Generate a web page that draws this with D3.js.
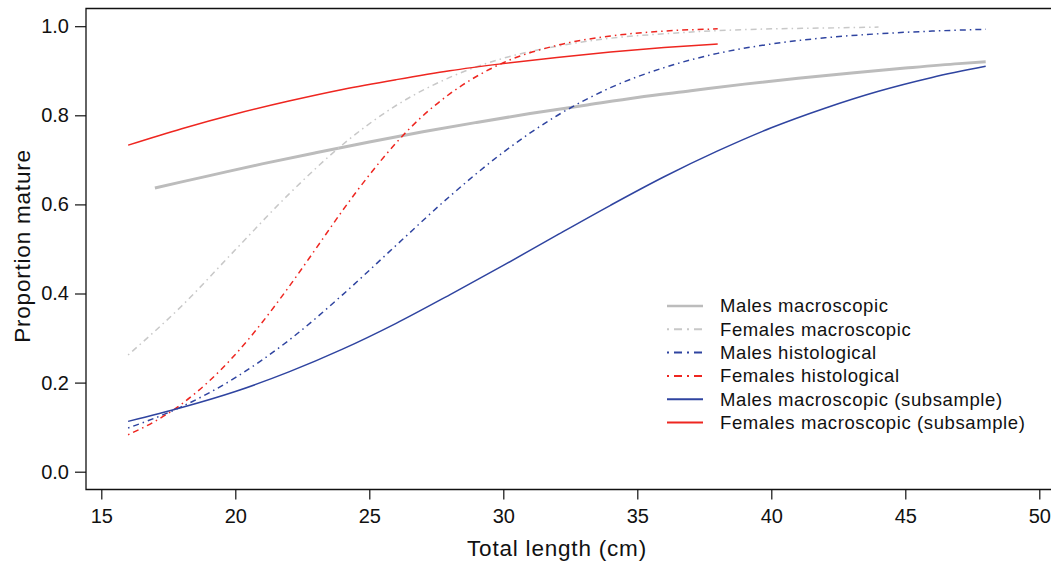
<!DOCTYPE html>
<html>
<head>
<meta charset="utf-8">
<script src="https://cdn.jsdelivr.net/npm/d3@7"></script>
<style>
  body { margin: 0; background: #fff; }
  text { font-family: "Liberation Sans", Arial, Helvetica, sans-serif; fill: #111; }
</style>
</head>
<body>
<div id="chart"></div>
<script>
// values (length in cm, proportion mature)
var malesMacro = [[17,0.637],[19,0.664],[21,0.691],[23,0.716],[25,0.740],[27,0.763],[29,0.784],[31,0.804],[33,0.822],[35,0.840],[37,0.855],[39,0.870],[41,0.883],[43,0.895],[45,0.906],[47,0.916],[48,0.920]];
var femalesMacro = [[16,0.262],[18,0.372],[20,0.498],[22,0.623],[24,0.734],[26,0.822],[28,0.885],[30,0.928],[32,0.955],[34,0.973],[36,0.983],[38,0.990],[40,0.994],[42,0.996],[44,0.998]];
var malesHisto = [[16,0.098],[18,0.146],[20,0.211],[22,0.295],[24,0.397],[26,0.508],[28,0.618],[30,0.717],[32,0.799],[34,0.862],[36,0.907],[38,0.939],[40,0.960],[42,0.974],[44,0.983],[46,0.989],[48,0.993]];
var femalesHisto = [[16,0.083],[17,0.113],[18,0.152],[19,0.202],[20,0.263],[21,0.335],[22,0.415],[23,0.500],[24,0.586],[25,0.666],[26,0.738],[27,0.799],[28,0.848],[30,0.918],[32,0.957],[34,0.978],[36,0.989],[38,0.994]];
var malesSub = [[16,0.113],[18,0.144],[20,0.180],[22,0.224],[24,0.275],[26,0.333],[28,0.397],[30,0.463],[32,0.531],[34,0.598],[36,0.662],[38,0.720],[40,0.772],[42,0.816],[44,0.854],[46,0.885],[48,0.910]];
var femalesSub = [[16,0.733],[18,0.770],[20,0.803],[22,0.832],[24,0.858],[26,0.880],[28,0.900],[30,0.916],[32,0.930],[34,0.942],[36,0.952],[38,0.960]];

var seriesNames = ["Males macroscopic", "Females macroscopic", "Males histological", "Females histological", "Males macroscopic (subsample)", "Females macroscopic (subsample)"];
var xTicks = [15, 20, 25, 30, 35, 40, 45, 50];
var yTicks = [0, 0.2, 0.4, 0.6, 0.8, 1.0];

var grey = "#bcbcbc", lightGrey = "#c8c8c8", blue = "#2f44a0", red = "#ee2620";
var dotdash = "1.5,4,6,4";

var series = [
    { name: seriesNames[0], values: malesMacro,   color: grey,      width: 3,   dash: null },
    { name: seriesNames[1], values: femalesMacro, color: lightGrey, width: 1.5, dash: dotdash },
    { name: seriesNames[2], values: malesHisto,   color: blue,      width: 1.5, dash: dotdash },
    { name: seriesNames[3], values: femalesHisto, color: red,       width: 1.5, dash: dotdash },
    { name: seriesNames[4], values: malesSub,     color: blue,      width: 1.5, dash: null },
    { name: seriesNames[5], values: femalesSub,   color: red,       width: 1.5, dash: null }
];

var width = 1051, height = 562;
var plotLeft = 86, plotTop = 8.5, plotBottom = 489.5;

var svg = d3.select("#chart").append("svg")
    .attr("width", width)
    .attr("height", height);

var x = d3.scaleLinear().domain([15, 50]).range([101.3, 1039.3]);
var y = d3.scaleLinear().domain([0, 1]).range([471.7, 26.2]);

// frame: left, top and bottom lines (plot is cropped on the right)
svg.append("path")
    .attr("d", "M" + width + "," + plotTop + "H" + plotLeft + "V" + plotBottom + "H" + width)
    .attr("fill", "none")
    .attr("stroke", "#111")
    .attr("stroke-width", 1.3);

var xAxis = svg.append("g")
    .attr("transform", "translate(0," + plotBottom + ")")
    .call(d3.axisBottom(x).tickValues(xTicks).tickSize(10).tickPadding(9).tickFormat(d3.format("d")));
xAxis.select(".domain").remove();
xAxis.selectAll("line").attr("stroke", "#111").attr("stroke-width", 1.2);
xAxis.selectAll("text").style("font-size", "20px").attr("fill", "#111");

var yAxis = svg.append("g")
    .attr("transform", "translate(" + plotLeft + ",0)")
    .call(d3.axisLeft(y).tickValues(yTicks).tickSize(11).tickPadding(6).tickFormat(d3.format(".1f")));
yAxis.select(".domain").remove();
yAxis.selectAll("line").attr("stroke", "#111").attr("stroke-width", 1.2);
yAxis.selectAll("text").style("font-size", "20px").attr("fill", "#111");

svg.append("text")
    .attr("x", 557)
    .attr("y", 556)
    .attr("text-anchor", "middle")
    .style("font-size", "22.5px")
    .style("letter-spacing", "0.8px")
    .text("Total length (cm)");

svg.append("text")
    .attr("transform", "translate(30,246) rotate(-90)")
    .attr("text-anchor", "middle")
    .style("font-size", "22.5px")
    .style("letter-spacing", "0.8px")
    .text("Proportion mature");

var line = d3.line()
    .x(function (d) { return x(d[0]); })
    .y(function (d) { return y(d[1]); })
    .curve(d3.curveMonotoneX);

svg.selectAll(".curve")
    .data(series)
    .enter()
    .append("path")
    .attr("class", "curve")
    .attr("d", function (d) { return line(d.values); })
    .attr("fill", "none")
    .attr("stroke", function (d) { return d.color; })
    .attr("stroke-width", function (d) { return d.width; })
    .attr("stroke-dasharray", function (d) { return d.dash; });

var legend = svg.append("g")
    .attr("class", "legend")
    .attr("transform", "translate(667,306)");

var rows = legend.selectAll("g")
    .data(series)
    .enter()
    .append("g")
    .attr("transform", function (d, i) { return "translate(0," + (i * 23.3) + ")"; });

rows.append("line")
    .attr("x1", 0)
    .attr("x2", 36)
    .attr("stroke", function (d) { return d.color; })
    .attr("stroke-width", function (d) { return d.width == 3 ? 2.5 : 2; })
    .attr("stroke-dasharray", function (d) { return d.dash ? "2,5,8,5" : null; });

rows.append("text")
    .attr("x", 53)
    .attr("dy", "0.35em")
    .style("font-size", "18.5px")
    .style("letter-spacing", "0.6px")
    .text(function (d) { return d.name; });
</script>
</body>
</html>
